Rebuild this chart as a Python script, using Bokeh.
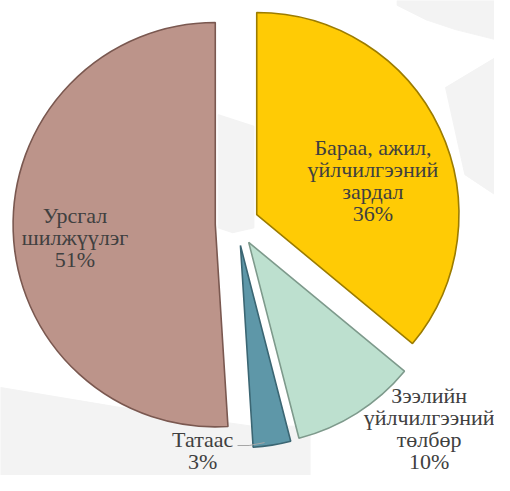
import math
from bokeh.plotting import figure
from bokeh.models import Range1d
from bokeh.core.properties import value
from bokeh.embed import file_html
from bokeh.resources import INLINE

# ---- data ----
categories = ["Бараа, ажил,\nүйлчилгээний\nзардал", "Зээлийн\nүйлчилгээний\nтөлбөр", "Татаас", "Урсгал\nшилжүүлэг"]
shares = [36, 10, 3, 51]

# ---- styles ----
fill_colors = ["#FFCB05", "#BDE0CF", "#5E97A8", "#BC948A"]
edge_colors = ["#9C7C00", "#7E9A8C", "#3B6673", "#7A5850"]
label_pos = [(385, 152), (443, 408), (209, 454), (77, 222)]  # reference px, first line centre
line_step = 22.8
font = "Liberation Serif"
font_px = 22

W, H = 494, 475
S = H / 491.0          # reference pixels -> screen pixels
def Y(py):
    return 491 - py

p = figure(width=W, height=H, output_backend="svg", toolbar_location=None,
           x_range=Range1d(0, W / S), y_range=Range1d(0, 491),
           min_border=0, outline_line_color=None)
p.axis.visible = False
p.grid.visible = False
p.background_fill_color = "white"
p.border_fill_color = "white"

# faint background texture patches
bg = "#F3F3F3"
p.patch([410, 510, 510, 470, 440, 410], [Y(0), Y(0), Y(40), Y(30), Y(20), Y(5)], color=bg)
p.patch([460, 510, 510, 480], [Y(90), Y(60), Y(200), Y(180)], color=bg)
p.patch([0, 120, 260, 320, 320, 0], [Y(400), Y(420), Y(440), Y(440), Y(491), Y(491)], color=bg)
p.patch([225, 262, 262, 240, 225], [Y(118), Y(130), Y(235), Y(240), Y(235)], color=bg)

cx, cy = 244.5, Y(231)
R = 209
explode = 22.5
total = sum(shares)
cum = 0.0
for i, s in enumerate(shares):
    t1 = cum / total * 2 * math.pi
    cum += s
    t2 = cum / total * 2 * math.pi
    tm = (t1 + t2) / 2
    ox = cx + explode * math.sin(tm)
    oy = cy + explode * math.cos(tm)
    p.wedge(x=[ox], y=[oy], radius=R,
            start_angle=math.pi / 2 - t2, end_angle=math.pi / 2 - t1,
            fill_color=fill_colors[i], line_color=edge_colors[i], line_width=1.6)
    lines = categories[i].split("\n") + [f"{s}%"]
    lx, ly = label_pos[i]
    xs = [lx] * len(lines)
    ys = [Y(ly + k * line_step) for k in range(len(lines))]
    p.text(x=xs, y=ys, text=lines, text_align="center", text_baseline="middle",
           text_font=value(font), text_font_size=f"{font_px}px",
           text_color="#404040")

# leader line for the small slice
p.line([245, 257, 273], [Y(460), Y(460), Y(457)], line_color="#A6A6A6", line_width=1)

open("out.html", "w").write(file_html(p, INLINE))
